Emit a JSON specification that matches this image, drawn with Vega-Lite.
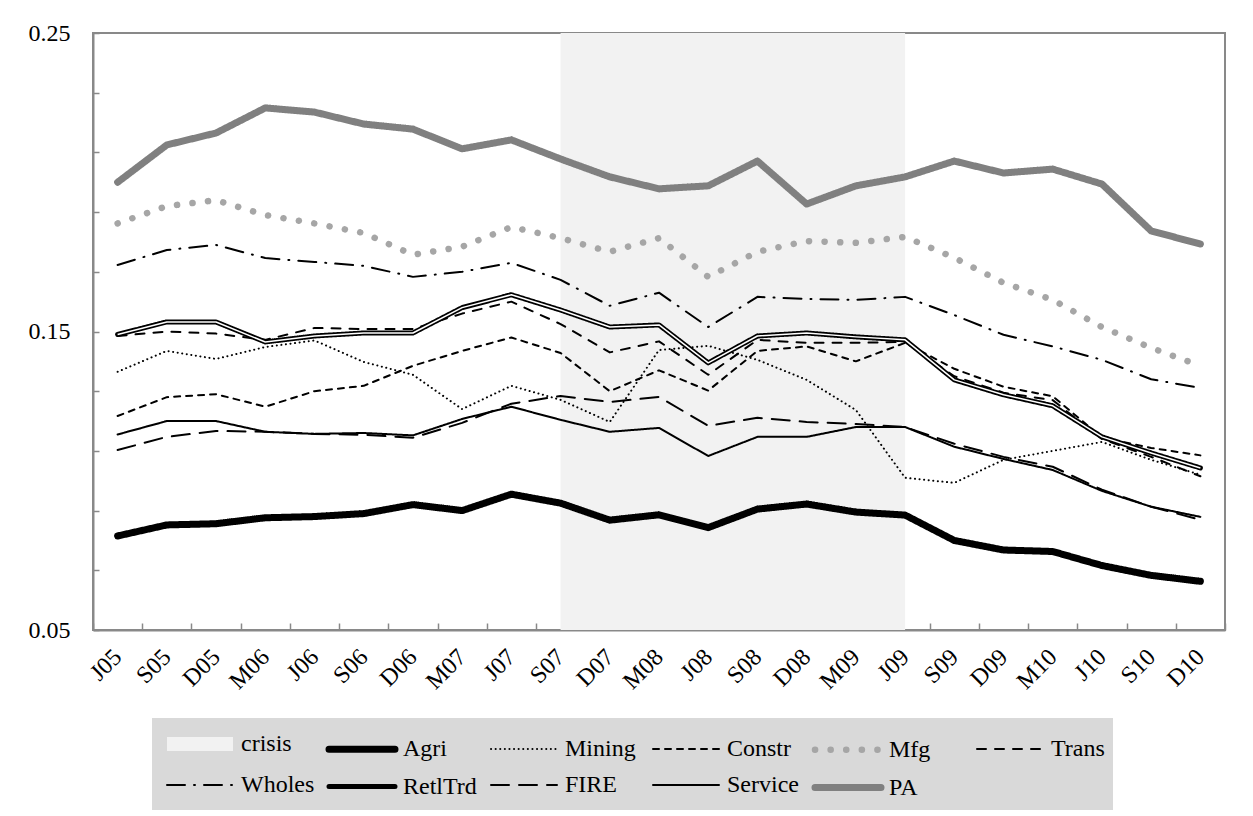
{
  "$schema": "https://vega.github.io/schema/vega-lite/v6.json",
  "width": 1132,
  "height": 597,
  "autosize": {"type": "none"},
  "padding": {"left": 93, "top": 33, "right": 28, "bottom": 186},
  "background": "white",
  "config": {
    "font": "Liberation Serif",
    "view": {"stroke": "#898989", "strokeWidth": 2},
    "axis": {"labelFont": "Liberation Serif", "labelFontSize": 24, "labelColor": "black", "domainColor": "#898989", "domainWidth": 2, "tickColor": "#898989", "tickWidth": 1.5, "grid": false},
    "legend": {"orient": "none", "legendX": 59, "legendY": 685, "direction": "horizontal", "columns": 6, "gridAlign": "all", "fillColor": "#d9d9d9", "padding": 8, "symbolType": "M-1,0H5", "symbolSize": 484, "labelFont": "Liberation Serif", "labelFontSize": 24, "labelColor": "black", "labelOffset": 45, "columnPadding": 0, "rowPadding": 1, "labelLimit": 200, "symbolLimit": 20}
  },
  "data": {"values": [
    {"m": "J05", "Agri": 0.0815, "Mining": 0.1365, "Constr": 0.1217, "Mfg": 0.1862, "Trans": 0.1485, "Wholes": 0.1723, "RetlTrd": 0.1490, "FIRE": 0.1103, "Service": 0.1155, "PA": 0.2000},
    {"m": "S05", "Agri": 0.0852, "Mining": 0.1435, "Constr": 0.1280, "Mfg": 0.1920, "Trans": 0.1500, "Wholes": 0.1773, "RetlTrd": 0.1532, "FIRE": 0.1147, "Service": 0.1200, "PA": 0.2125},
    {"m": "D05", "Agri": 0.0856, "Mining": 0.1408, "Constr": 0.1290, "Mfg": 0.1940, "Trans": 0.1493, "Wholes": 0.1790, "RetlTrd": 0.1532, "FIRE": 0.1167, "Service": 0.1200, "PA": 0.2165},
    {"m": "M06", "Agri": 0.0876, "Mining": 0.1448, "Constr": 0.1248, "Mfg": 0.1890, "Trans": 0.1472, "Wholes": 0.1746, "RetlTrd": 0.1465, "FIRE": 0.1164, "Service": 0.1164, "PA": 0.2249},
    {"m": "J06", "Agri": 0.0880, "Mining": 0.1470, "Constr": 0.1300, "Mfg": 0.1862, "Trans": 0.1512, "Wholes": 0.1733, "RetlTrd": 0.1485, "FIRE": 0.1157, "Service": 0.1157, "PA": 0.2235},
    {"m": "S06", "Agri": 0.0890, "Mining": 0.1398, "Constr": 0.1318, "Mfg": 0.1830, "Trans": 0.1508, "Wholes": 0.1720, "RetlTrd": 0.1495, "FIRE": 0.1154, "Service": 0.1160, "PA": 0.2195},
    {"m": "D06", "Agri": 0.0920, "Mining": 0.1355, "Constr": 0.1385, "Mfg": 0.1757, "Trans": 0.1508, "Wholes": 0.1683, "RetlTrd": 0.1495, "FIRE": 0.1144, "Service": 0.1152, "PA": 0.2178},
    {"m": "M07", "Agri": 0.0900, "Mining": 0.1240, "Constr": 0.1435, "Mfg": 0.1784, "Trans": 0.1560, "Wholes": 0.1700, "RetlTrd": 0.1580, "FIRE": 0.1194, "Service": 0.1207, "PA": 0.2112},
    {"m": "J07", "Agri": 0.0955, "Mining": 0.1318, "Constr": 0.1480, "Mfg": 0.1850, "Trans": 0.1600, "Wholes": 0.1730, "RetlTrd": 0.1623, "FIRE": 0.1258, "Service": 0.1248, "PA": 0.2142},
    {"m": "S07", "Agri": 0.0925, "Mining": 0.1271, "Constr": 0.1428, "Mfg": 0.1813, "Trans": 0.1525, "Wholes": 0.1673, "RetlTrd": 0.1572, "FIRE": 0.1284, "Service": 0.1204, "PA": 0.2078, "crisis": 0.25},
    {"m": "D07", "Agri": 0.0868, "Mining": 0.1197, "Constr": 0.1300, "Mfg": 0.1767, "Trans": 0.1430, "Wholes": 0.1586, "RetlTrd": 0.1515, "FIRE": 0.1264, "Service": 0.1164, "PA": 0.2018, "crisis": 0.25},
    {"m": "M08", "Agri": 0.0886, "Mining": 0.1438, "Constr": 0.1370, "Mfg": 0.1813, "Trans": 0.1467, "Wholes": 0.1630, "RetlTrd": 0.1522, "FIRE": 0.1281, "Service": 0.1177, "PA": 0.1978, "crisis": 0.25},
    {"m": "J08", "Agri": 0.0843, "Mining": 0.1452, "Constr": 0.1302, "Mfg": 0.1683, "Trans": 0.1355, "Wholes": 0.1515, "RetlTrd": 0.1395, "FIRE": 0.1184, "Service": 0.1083, "PA": 0.1988, "crisis": 0.25},
    {"m": "S08", "Agri": 0.0905, "Mining": 0.1405, "Constr": 0.1435, "Mfg": 0.1767, "Trans": 0.1472, "Wholes": 0.1616, "RetlTrd": 0.1485, "FIRE": 0.1211, "Service": 0.1147, "PA": 0.2071, "crisis": 0.25},
    {"m": "D08", "Agri": 0.0922, "Mining": 0.1338, "Constr": 0.1450, "Mfg": 0.1803, "Trans": 0.1462, "Wholes": 0.1609, "RetlTrd": 0.1495, "FIRE": 0.1197, "Service": 0.1147, "PA": 0.1927, "crisis": 0.25},
    {"m": "M09", "Agri": 0.0895, "Mining": 0.1237, "Constr": 0.1400, "Mfg": 0.1797, "Trans": 0.1462, "Wholes": 0.1606, "RetlTrd": 0.1482, "FIRE": 0.1190, "Service": 0.1180, "PA": 0.1988, "crisis": 0.25},
    {"m": "J09", "Agri": 0.0885, "Mining": 0.1010, "Constr": 0.1462, "Mfg": 0.1817, "Trans": 0.1465, "Wholes": 0.1616, "RetlTrd": 0.1472, "FIRE": 0.1180, "Service": 0.1180, "PA": 0.2018, "crisis": 0.25},
    {"m": "S09", "Agri": 0.0800, "Mining": 0.0993, "Constr": 0.1375, "Mfg": 0.1747, "Trans": 0.1350, "Wholes": 0.1555, "RetlTrd": 0.1338, "FIRE": 0.1124, "Service": 0.1114, "PA": 0.2071},
    {"m": "D09", "Agri": 0.0768, "Mining": 0.1070, "Constr": 0.1315, "Mfg": 0.1663, "Trans": 0.1295, "Wholes": 0.1489, "RetlTrd": 0.1288, "FIRE": 0.1080, "Service": 0.1073, "PA": 0.2031},
    {"m": "M10", "Agri": 0.0763, "Mining": 0.1100, "Constr": 0.1283, "Mfg": 0.1606, "Trans": 0.1270, "Wholes": 0.1450, "RetlTrd": 0.1251, "FIRE": 0.1047, "Service": 0.1036, "PA": 0.2044},
    {"m": "J10", "Agri": 0.0716, "Mining": 0.1130, "Constr": 0.1145, "Mfg": 0.1515, "Trans": 0.1140, "Wholes": 0.1405, "RetlTrd": 0.1147, "FIRE": 0.0970, "Service": 0.0966, "PA": 0.1994},
    {"m": "S10", "Agri": 0.0683, "Mining": 0.1070, "Constr": 0.1110, "Mfg": 0.1445, "Trans": 0.1080, "Wholes": 0.1340, "RetlTrd": 0.1093, "FIRE": 0.0913, "Service": 0.0913, "PA": 0.1837},
    {"m": "D10", "Agri": 0.0663, "Mining": 0.1020, "Constr": 0.1085, "Mfg": 0.1385, "Trans": 0.1015, "Wholes": 0.1311, "RetlTrd": 0.1043, "FIRE": 0.0869, "Service": 0.0879, "PA": 0.1793}
  ]},
  "encoding": {
    "x": {
      "field": "m", "type": "ordinal", "sort": null, "bandPosition": 0.5,
      "scale": {"type": "band", "domain": ["J05","S05","D05","M06","J06","S06","D06","M07","J07","S07","D07","M08","J08","S08","D08","M09","J09","S09","D09","M10","J10","S10","D10"], "paddingInner": 0, "paddingOuter": 0},
      "axis": {"title": null, "tickBand": "extent", "tickSize": -7, "labelAngle": -45, "labelAlign": "right", "labelBaseline": "middle", "labelPadding": 30}
    }
  },
  "layer": [
    {
      "transform": [{"filter": "isValid(datum.crisis)"}],
      "mark": {"type": "area", "color": "#f2f2f2"},
      "encoding": {
        "y": {"field": "crisis", "type": "quantitative", "scale": {"domain": [0.05, 0.25], "nice": false, "zero": false},
          "axis": {"title": null, "values": [0.05,0.06,0.07,0.08,0.09,0.10,0.11,0.12,0.13,0.14,0.15,0.16,0.17,0.18,0.19,0.20,0.21,0.22,0.23,0.24,0.25], "labelExpr": "round(datum.value*100) % 5 == 0 ? format(datum.value, '.2f') : ''", "tickSize": -6, "labelPadding": 29}},
        "y2": {"datum": 0.05}
      }
    },
    {
      "transform": [{"fold": ["Agri","Mining","Constr","Mfg","Trans","Wholes","RetlTrd","FIRE","Service","PA"], "as": ["series","value"]}],
      "mark": {"type": "line", "strokeCap": "round", "strokeJoin": "round"},
      "encoding": {
        "y": {"field": "value", "type": "quantitative", "scale": {"domain": [0.05, 0.25], "nice": false, "zero": false}},
        "color": {"field": "series", "type": "nominal",
          "legend": {"title": null, "encoding": {"symbols": {"strokeCap": {"condition": {"test": "datum.value === 'crisis'", "value": "butt"}, "value": "round"}}}},
          "scale": {"domain": ["crisis","Agri","Mining","Constr","Mfg","Trans","Wholes","RetlTrd","FIRE","Service","PA"],
                    "range": ["#f2f2f2","#000000","#000000","#000000","#a6a6a6","#000000","#000000","#000000","#000000","#000000","#808080"]}},
        "strokeDash": {"field": "series", "type": "nominal", "legend": {"title": null},
          "scale": {"domain": ["crisis","Agri","Mining","Constr","Mfg","Trans","Wholes","RetlTrd","FIRE","Service","PA"],
                    "range": [[1,0],[1,0],[0.1,4.5],[6,6],[0.1,15.5],[9,9],[18,9,1,9],[1,0],[18,10],[1,0],[1,0]]}},
        "strokeWidth": {"field": "series", "type": "nominal", "legend": {"title": null},
          "scale": {"type": "ordinal", "domain": ["crisis","Agri","Mining","Constr","Mfg","Trans","Wholes","RetlTrd","FIRE","Service","PA"],
                    "range": [14, 7, 2, 2, 6.5, 2, 2, 5, 2, 2, 7]}}
      }
    },
    {
      "transform": [{"fold": ["RetlTrd"], "as": ["series","value"]}],
      "mark": {"type": "line", "color": "white", "strokeWidth": 1.5, "strokeJoin": "round"},
      "encoding": {
        "y": {"field": "value", "type": "quantitative", "scale": {"domain": [0.05, 0.25], "nice": false, "zero": false}}
      }
    }
  ]
}
